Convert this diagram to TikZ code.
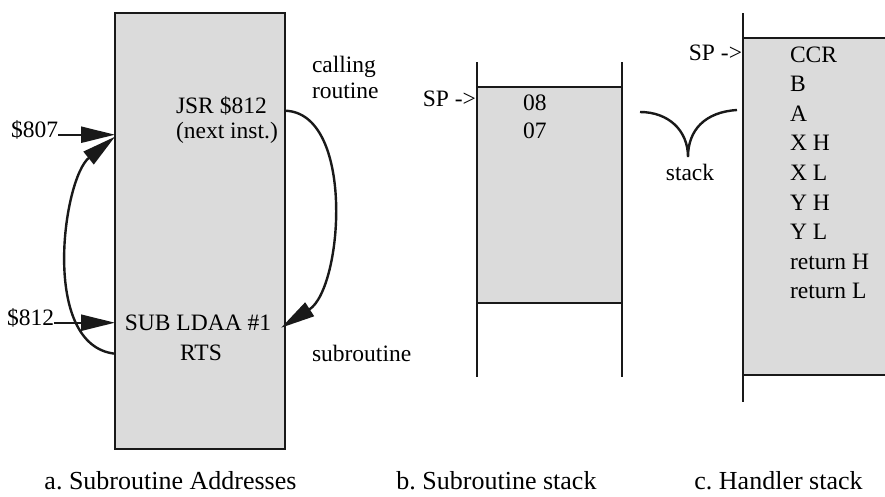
\documentclass[tikz,border=0pt]{standalone}
\usepackage{fontspec}
\setmainfont{Liberation Serif}
\usetikzlibrary{arrows.meta}
\frenchspacing
\begin{document}
\begin{tikzpicture}[x=1pt,y=-1pt,
  memfill/.style={fill=black!14},
  wall/.style={line width=2.6pt, draw=black!90},
  lbl/.style={inner sep=0pt, outer sep=0pt, font=\fontsize{23.5}{29}\selectfont},
  capt/.style={inner sep=0pt, outer sep=0pt, anchor=base, font=\fontsize{26}{30}\selectfont},
  flow/.style={line width=2.4pt, draw=black!90, -{Triangle[length=34pt,width=16pt]}},
  brace/.style={line width=2.4pt, draw=black!90}
]
\clip (0,0) rectangle (885,496);
\fill[white] (0,0) rectangle (885,496);

% ---- a. subroutine addresses: program memory block
\node[memfill, wall, draw, anchor=north west, inner sep=0pt, outer sep=0pt,
      minimum width=170pt, minimum height=436pt] (boxa) at (115,13) {};

\node[lbl, anchor=base west] (jsr)      at (176,113) {JSR \$812};
\node[lbl, anchor=base west] (nextinst) at (176,138) {(next inst.)};
\node[lbl, anchor=base]      (sub)      at (198,330) {SUB LDAA \#1};
\node[lbl, anchor=base]      (rts)      at (201,360) {RTS};

\node[lbl, anchor=base west] (calling)  at (312,72)  {calling};
\node[lbl, anchor=base west] (routine)  at (312,98)  {routine};
\node[lbl, anchor=base west] (subr)     at (312,361) {subroutine};

\node[lbl, anchor=base west] (a807) at (11,137) {\$807};
\node[lbl, anchor=base west] (a812) at (7,325)  {\$812};

% address pointers into the block
\draw[flow] (a807.mid east) -- (boxa.west |- a807.mid);
\draw[flow] (a812.mid east) -- (boxa.west |- a812.mid);

% call: JSR jumps to SUB
\draw[flow] (boxa.east |- jsr.mid) .. controls +(70,2) and +(62,-40) .. ([xshift=10pt]sub.mid east);

% return: RTS goes back to the next instruction
\draw[flow] ([yshift=4pt]boxa.west |- rts.mid) .. controls +(-75,-8) and +(-52,42) .. ([yshift=-2pt]boxa.west |- a807.mid);

% ---- b. subroutine stack
\node[memfill, anchor=north west, inner sep=0pt, outer sep=0pt,
      minimum width=145pt, minimum height=216pt] (stackb) at (477,87) {};
\draw[wall] (stackb.north west) -- (stackb.north east);
\draw[wall] (stackb.south west) -- (stackb.south east);
\draw[wall] (477,62) -- (477,377);
\draw[wall] (622,62) -- (622,377);

\node[lbl, anchor=base east] (spb) at (476,106) {SP ->};
\node[lbl, anchor=base west] (b08) at (523,110) {08};
\node[lbl, anchor=base west] (b07) at (523,138) {07};

% ---- brace between the two stacks
\coordinate (braceL)   at (640,112);
\coordinate (braceTip) at (688,157);
\coordinate (braceR)   at (737,110);
\draw[brace] (braceL) .. controls (668,112) and (688,130) .. (braceTip)
             .. controls (688,130) and (705,112) .. (braceR);
\node[lbl, anchor=base] (stk) at (690,180) {stack};

% ---- c. handler stack
\node[memfill, anchor=north west, inner sep=0pt, outer sep=0pt,
      minimum width=160pt, minimum height=337pt] (stackc) at (743,38) {};
\draw[wall] (stackc.north west) -- (stackc.north east);
\draw[wall] (stackc.south west) -- (stackc.south east);
\draw[wall] (743,13) -- (743,402);

\node[lbl, anchor=base east] (spc) at (742,60) {SP ->};
\node[lbl, anchor=base west] (ccr)  at (790,62)    {CCR};
\node[lbl, anchor=base west] (rb)   at (790,91.6)  {B};
\node[lbl, anchor=base west] (ra)   at (790,121.2) {A};
\node[lbl, anchor=base west] (rxh)  at (790,150.8) {X H};
\node[lbl, anchor=base west] (rxl)  at (790,180.4) {X L};
\node[lbl, anchor=base west] (ryh)  at (790,210)   {Y H};
\node[lbl, anchor=base west] (ryl)  at (790,239.6) {Y L};
\node[lbl, anchor=base west] (reth) at (790,269.2) {return H};
\node[lbl, anchor=base west] (retl) at (790,298.8) {return L};

% ---- captions
\node[capt] (capa) at (170.5,489) {a. Subroutine Addresses};
\node[capt] (capb) at (496.5,489) {b. Subroutine stack};
\node[capt] (capc) at (778.5,489) {c. Handler stack};
\end{tikzpicture}
\end{document}
